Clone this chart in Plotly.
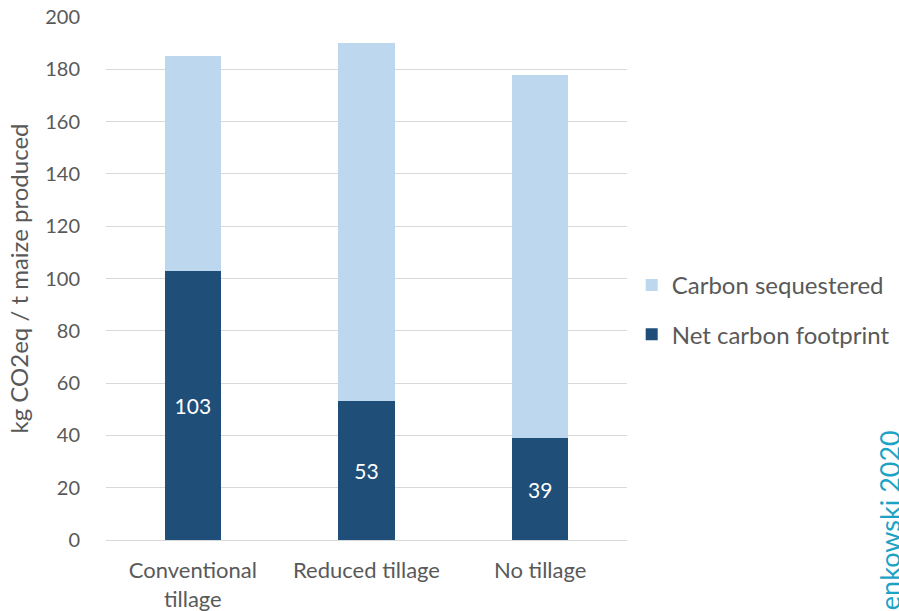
import plotly.graph_objects as go

# Tillage systems and their emissions per tonne of maize (kg CO2eq / t)
categories = ["Conventional<br>tillage", "Reduced tillage", "No tillage"]
net_footprint = [103, 53, 39]
carbon_sequestered = [82, 137, 139]
y_ticks = [0, 20, 40, 60, 80, 100, 120, 140, 160, 180, 200]

FONT = "Lato, Carlito, Calibri, sans-serif"
TEXT = "#595959"
DARK = "#1F4E79"
LIGHT = "#BDD7EE"
GRID = "#D9D9D9"

fig = go.Figure()

fig.add_trace(go.Bar(
    x=categories, y=net_footprint, name="Net carbon footprint",
    marker=dict(color=DARK, line=dict(width=0)),
    text=[str(v) for v in net_footprint], textposition="inside",
    insidetextanchor="middle", textangle=0,
    textfont=dict(family=FONT, size=21, color="white"),
    legendgroup="net", legendrank=2, hoverinfo="x+y",
))
fig.add_trace(go.Bar(
    x=categories, y=carbon_sequestered, name="Carbon sequestered",
    marker=dict(color=LIGHT, line=dict(width=0)),
    legendgroup="seq", legendrank=1, hoverinfo="x+y",
))

fig.update_layout(
    width=899, height=611,
    margin=dict(l=106, r=272, t=17, b=71, autoexpand=False),
    barmode="stack", bargap=0.677,
    paper_bgcolor="white", plot_bgcolor="white",
    font=dict(family=FONT, size=22, color=TEXT),
    legend=dict(
        x=1.009, xanchor="left", y=0.44, yanchor="middle",
        traceorder="grouped", tracegroupgap=15,
        font=dict(family=FONT, size=24, color=TEXT),
        itemwidth=30,
    ),
    showlegend=True,
)

fig.update_xaxes(
    showgrid=False, zeroline=False,
    showline=True, linecolor=GRID, linewidth=1,
    ticks="outside", ticklen=11, tickcolor="rgba(0,0,0,0)",
    tickfont=dict(family=FONT, size=22, color=TEXT),
)
fig.update_yaxes(
    range=[0, 200], tickvals=y_ticks,
    showgrid=True, gridcolor=GRID, gridwidth=1,
    zeroline=False, showline=False,
    ticks="outside", ticklen=21, tickcolor="rgba(0,0,0,0)",
    tickfont=dict(family=FONT, size=20, color=TEXT),
    title=dict(text="kg CO2eq / t maize produced",
               font=dict(family=FONT, size=24, color=TEXT), standoff=9),
)

# Source credit, rotated along the right edge
fig.add_annotation(
    text="enkowski 2020", textangle=-90,
    xref="paper", yref="paper", x=1.503, y=0.214,
    xanchor="center", yanchor="top", showarrow=False,
    font=dict(family=FONT, size=27, color="#1BA3C6"),
)

fig.write_html("out.html")
